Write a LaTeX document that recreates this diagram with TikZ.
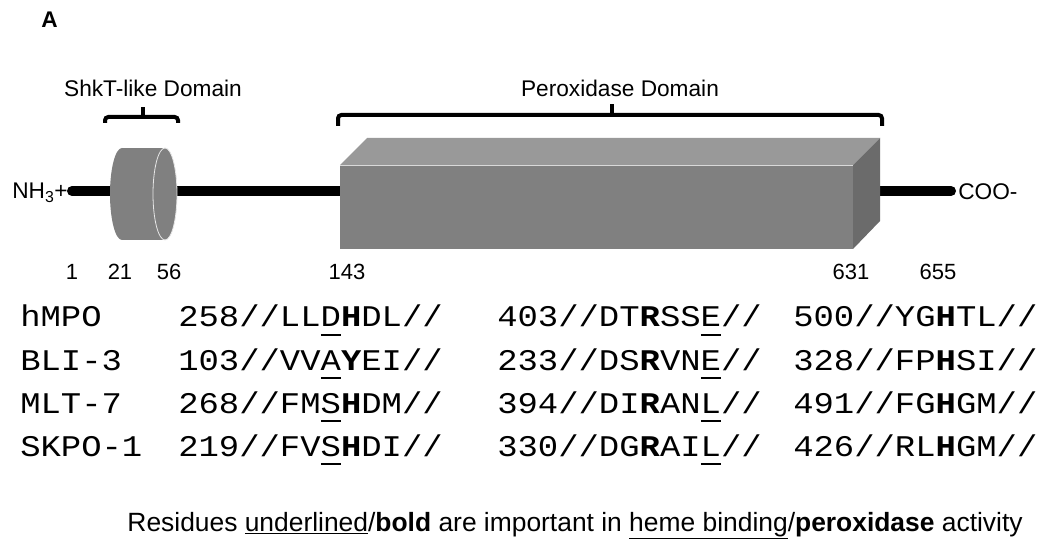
\documentclass[tikz,border=0pt]{standalone}
\usepackage{fontspec}
\setmainfont{Liberation Sans}
\newfontfamily\seqfont{Liberation Mono}[FakeStretch=1.13]
\definecolor{front}{HTML}{808080}
\definecolor{topface}{HTML}{999999}
\definecolor{sideface}{HTML}{6B6B6B}
\newcommand\ulch[1]{\rlap{\makebox[15.3pt]{\rule[-6.5pt]{15pt}{1.5pt}}}#1}
\newcommand\bch[1]{{\bfseries #1}}
\tikzset{
  lbl/.style={inner sep=0pt, font=\fontsize{17}{20}\selectfont},
  numlbl/.style={inner sep=0pt, anchor=base, font=\fontsize{16.5}{20}\selectfont},
  seq/.style={inner sep=0pt, anchor=base west, font=\seqfont\fontsize{22.5}{27}\selectfont},
  backbone/.style={line width=7.5pt, line cap=round},
  bracketline/.style={line width=3pt, rounded corners=2.5pt},
}
\begin{document}
\begin{tikzpicture}[x=0.75pt,y=-0.75pt]
\useasboundingbox (0,0) rectangle (1044,548);
\fill[white] (0,0) rectangle (1044,548);

% panel letter
\node[inner sep=0pt, anchor=base west, font=\bfseries\fontsize{17}{20}\selectfont] (panel) at (41,28) {A};

% termini
\node[lbl, anchor=east] (nterm) at (68,193) {NH\textsubscript{3}+};
\node[lbl, anchor=west] (cterm) at (958,192) {COO-};

% backbone
\coordinate (bbL) at (72,191);
\coordinate (bbM) at (345,191);
\coordinate (bbR0) at (866,191);
\coordinate (bbR) at (951,191);
\draw[backbone] (bbL) -- (bbM);
\draw[backbone] (bbR0) -- (bbR);

% ShkT-like cylinder
\coordinate (cylL) at (122,194);
\coordinate (cylR) at (165,194);
\fill[front] (cylL) ellipse [x radius=12, y radius=46];
\fill[front] (122,148) rectangle (165,240);
\filldraw[fill=front, draw=white!80!front, line width=0.6pt] (cylR) ellipse [x radius=12, y radius=46];

% Peroxidase box
\coordinate (b1) at (340,165);
\coordinate (b2) at (853,165);
\coordinate (b3) at (853,249);
\coordinate (b4) at (340,249);
\coordinate (t1) at (367,138);
\coordinate (t2) at (880,138);
\coordinate (t3) at (880,221);
\fill[topface] (b1) -- (t1) -- (t2) -- (b2) -- cycle;
\fill[sideface] (b2) -- (t2) -- (t3) -- (b3) -- cycle;
\fill[front] (b1) rectangle (b3);
\draw[white!70!front, line width=0.6pt] (b1) -- (b2);

% brackets
\coordinate (sb1) at (105,123);
\coordinate (sb2) at (178,123);
\coordinate (sbm) at (143,107);
\draw[bracketline] (sb1) -- (105,117) -- (178,117) -- (sb2);
\draw[line width=3pt] (143,117) -- (sbm);
\node[lbl, anchor=base] (shktlbl) at (153,97) {ShkT-like Domain};

\coordinate (pb1) at (338,126);
\coordinate (pb2) at (882,126);
\coordinate (pbm) at (612,104);
\draw[bracketline] (pb1) -- (338,115) -- (882,115) -- (pb2);
\draw[line width=3pt] (612,115) -- (pbm);
\node[lbl, anchor=base] (peroxlbl) at (620,97) {Peroxidase Domain};

% residue numbers
\node[numlbl] (n1) at (72,280) {1};
\node[numlbl] (n21) at (120,280) {21};
\node[numlbl] (n56) at (169,280) {56};
\node[numlbl] (n143) at (347,280) {143};
\node[numlbl] (n631) at (851,280) {631};
\node[numlbl] (n655) at (938,280) {655};

% sequences
\node[seq] (r1n) at (20,327) {hMPO};
\node[seq] (r1a) at (178,327) {258//LL\ulch{D}\bch{H}DL//};
\node[seq] (r1b) at (497,327) {403//DT\bch{R}SS\ulch{E}//};
\node[seq] (r1c) at (793,327) {500//YG\bch{H}TL//};

\node[seq] (r2n) at (20,370) {BLI-3};
\node[seq] (r2a) at (178,370) {103//VV\ulch{A}\bch{Y}EI//};
\node[seq] (r2b) at (497,370) {233//DS\bch{R}VN\ulch{E}//};
\node[seq] (r2c) at (793,370) {328//FP\bch{H}SI//};

\node[seq] (r3n) at (20,413) {MLT-7};
\node[seq] (r3a) at (178,413) {268//FM\ulch{S}\bch{H}DM//};
\node[seq] (r3b) at (497,413) {394//DI\bch{R}AN\ulch{L}//};
\node[seq] (r3c) at (793,413) {491//FG\bch{H}GM//};

\node[seq] (r4n) at (20,456) {SKPO-1};
\node[seq] (r4a) at (178,456) {219//FV\ulch{S}\bch{H}DI//};
\node[seq] (r4b) at (497,456) {330//DG\bch{R}AI\ulch{L}//};
\node[seq] (r4c) at (793,456) {426//RL\bch{H}GM//};

% caption
\node[inner sep=0pt, anchor=base, font=\fontsize{19.8}{23}\selectfont] (caption) at (575,531)
  {Residues \underline{underlined}/\textbf{bold} are important in \underline{heme binding}/\textbf{peroxidase} activity};
\end{tikzpicture}
\end{document}
